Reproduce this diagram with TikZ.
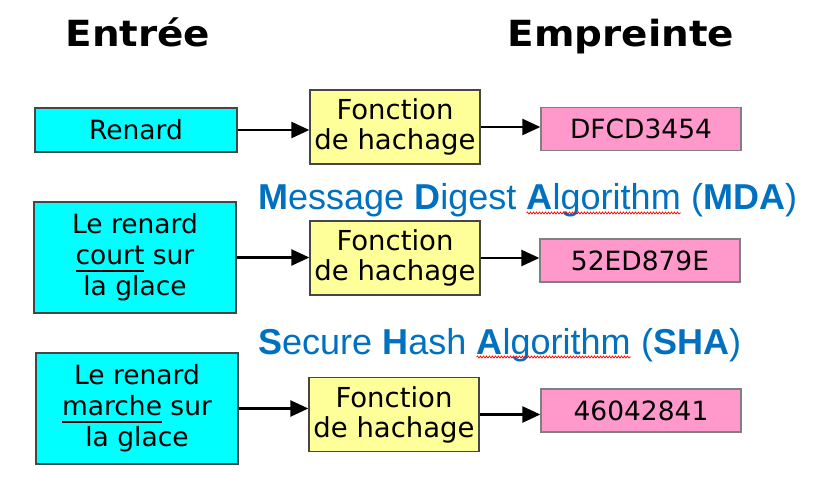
\documentclass[tikz,border=0pt]{standalone}
\usepackage{fontspec}
\setmainfont{DejaVu Sans}
\newfontfamily\arialfont{Liberation Sans}
\usetikzlibrary{arrows.meta,decorations.pathmorphing}
\definecolor{cyanbox}{RGB}{0,255,255}
\definecolor{jaune}{RGB}{255,255,153}
\definecolor{rose}{RGB}{255,153,204}
\definecolor{bleu}{RGB}{0,112,192}
\definecolor{bord}{RGB}{70,70,70}
\newcommand\souligne[1]{\leavevmode\setbox0\hbox{#1}\rlap{\rule[-7pt]{\wd0}{1.4pt}}\box0\relax}

\begin{document}
\begin{tikzpicture}[x=1pt, y=-1pt, >={Triangle[length=18pt,width=16pt]},
    entree/.style={draw=bord, line width=1.3pt, fill=cyanbox, minimum width=202pt, inner sep=0pt, align=center, font=\fontsize{26.5}{31}\selectfont},
    fonction/.style={draw=bord, line width=1.3pt, fill=jaune, minimum width=170pt, minimum height=74pt, inner sep=0pt, align=center, font=\fontsize{27.5}{30}\selectfont},
    empreinte/.style={draw=gray, line width=1.3pt, fill=rose, minimum width=200pt, minimum height=43pt, inner sep=0pt, font=\fontsize{26.5}{31}\selectfont},
    titre/.style={anchor=base, inner sep=0pt, xscale=1.08, font=\bfseries\fontsize{36}{40}\selectfont},
    algo/.style={anchor=base west, inner sep=0pt, text=bleu, font=\arialfont\fontsize{36}{40}\selectfont},
    fleche/.style={->, line width=2.5pt},
    faute/.style={red, line width=0.7pt, decorate, decoration={snake, amplitude=1pt, segment length=3pt}}]
    \useasboundingbox (0,0) rectangle (817,489);
    \node[titre] (t1) at (138,47) {Entrée};
    \node[titre] (t2) at (621,47) {Empreinte};
    \node[entree, minimum height=44pt] (e1) at (136,130) {Renard};
    \node[fonction] (f1) at (395,127) {Fonction\\de hachage};
    \node[empreinte] (h1) at (641,129) {DFCD3454};
    \node[algo] (m1) at (258,210) {\textbf{M}essage \textbf{D}igest\ \null};
    \node[algo] (m2) at (m1.base east) {\textbf{A}lgorithm};
    \node[algo] (m3) at (m2.base east) {\ (\textbf{MDA})};
    \draw[faute] ([yshift=-3pt]m2.base west) -- ([yshift=-3pt]m2.base east);
    \node[entree, minimum height=111pt] (e2) at (135,257.5) {Le renard\\\souligne{court} sur\\la glace};
    \node[fonction] (f2) at (395,258) {Fonction\\de hachage};
    \node[empreinte] (h2) at (640,260.5) {52ED879E};
    \node[algo] (s1) at (258,354) {\textbf{S}ecure \textbf{H}ash\ \null};
    \node[algo] (s2) at (s1.base east) {\textbf{A}lgorithm};
    \node[algo] (s3) at (s2.base east) {\ (\textbf{SHA})};
    \draw[faute] ([yshift=-3pt]s2.base west) -- ([yshift=-3pt]s2.base east);
    \node[entree, minimum height=111pt] (e3) at (137,408.5) {Le renard\\\souligne{marche} sur\\la glace};
    \node[fonction] (f3) at (394,414.5) {Fonction\\de hachage};
    \node[empreinte] (h3) at (641,410.5) {46042841};
    \draw[fleche] (e1.east) -- (e1.east -| f1.west);
    \draw[fleche] (f1.east) -- (f1.east -| h1.west);
    \draw[fleche] (e2.east) -- (e2.east -| f2.west);
    \draw[fleche] (f2.east) -- (f2.east -| h2.west);
    \draw[fleche] (e3.east) -- (e3.east -| f3.west);
    \draw[fleche] (f3.east) -- (f3.east -| h3.west);
\end{tikzpicture}
\end{document}
